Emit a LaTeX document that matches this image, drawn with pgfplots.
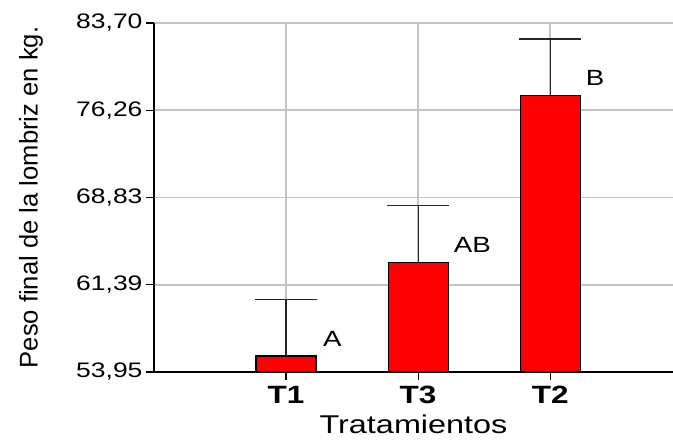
\documentclass[border=0pt]{standalone}
\usepackage{pgfplots}
\pgfplotsset{compat=1.18}
\usepackage{fontspec}
\setmainfont{Liberation Sans}[FakeStretch=1.26]
\newfontfamily\plainfont{Liberation Sans}
\definecolor{gridgray}{RGB}{195,195,195}
\begin{document}
\begin{tikzpicture}
\begin{axis}[
 scale only axis, width=519pt, height=349pt,
 xmin=0, xmax=3.93, ymin=53.95, ymax=83.70,
 axis x line=bottom, axis y line=left,
 axis line style={-, line width=1.3pt, black},
 xtick={1,2,3}, xticklabels={T1,T3,T2},
 ytick={53.95,61.39,68.83,76.26,83.70},
 yticklabels={{53,95},{61,39},{68,83},{76,26},{83,70}},
 tick align=outside, major tick length=8pt,
 tick style={black, line width=1.2pt},
 grid=major,
 major grid style={color=gridgray, line width=1.8pt},
 yticklabel style={font=\fontsize{21}{24}\selectfont, black},
 xticklabel style={font=\bfseries\fontsize{25}{28}\selectfont, black, yshift=-3pt},
 xlabel={Tratamientos},
 ylabel={Peso final de la lombriz en kg.},
 xlabel style={font=\fontsize{25.7}{29}\selectfont, anchor=center, at={(axis description cs:0.5,-0.149)}},
 ylabel style={font=\plainfont\fontsize{25.6}{29}\selectfont, anchor=center, at={(axis description cs:-0.237,0.5)}},
]
\addplot[ybar, bar width=60pt, fill=red, draw=black, line width=1.2pt,
 error bars/.cd, y dir=plus, y explicit, error mark=|,
 error bar style={line width=1.2pt, black!85},
 error mark options={mark size=31pt, line width=1.2pt, black!85}]
 coordinates {(1,55.31) +- (0,4.84) (2,63.30) +- (0,4.86) (3,77.50) +- (0,4.84)};
\node[font=\fontsize{22}{25}\selectfont] at (axis cs:1.35,56.76) {A};
\node[font=\fontsize{22}{25}\selectfont] at (axis cs:2.41,64.78) {AB};
\node[font=\fontsize{22}{25}\selectfont] at (axis cs:3.34,79.01) {B};
\coordinate (sw) at (rel axis cs:0,0);
\coordinate (ne) at (rel axis cs:1,1);
\end{axis}
\pgfresetboundingbox
\path[use as bounding box] ([xshift=-154pt,yshift=-71pt]sw) rectangle ([yshift=23pt]ne);
\end{tikzpicture}
\end{document}
